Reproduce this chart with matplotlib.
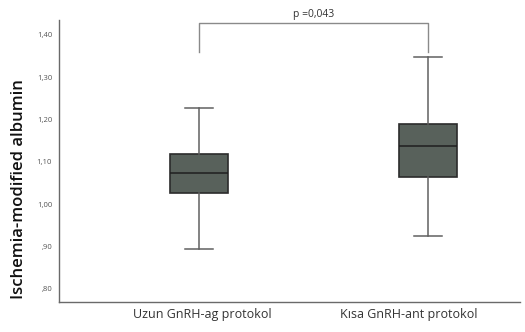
import matplotlib
matplotlib.use("Agg")
import matplotlib.pyplot as plt
import matplotlib.transforms as mtransforms

# Kutu grafik istatistikleri
groups = ["Uzun GnRH-ag protokol", "Kısa GnRH-ant protokol"]
whisker_low = [0.894, 0.925]
q1 = [1.027, 1.065]
median = [1.074, 1.138]
q3 = [1.119, 1.190]
whisker_high = [1.227, 1.349]
p_text = "p =0,043"
yticks = [0.80, 0.90, 1.00, 1.10, 1.20, 1.30, 1.40]
ytick_labels = [",80", ",90", "1,00", "1,10", "1,20", "1,30", "1,40"]

plt.rcParams['font.family'] = ['Open Sans', 'DejaVu Sans']

fig = plt.figure(figsize=(5.25, 3.32), dpi=100)
ax = fig.add_axes([0.1124, 0.0904, 0.8776, 0.8494])

stats = []
for i in range(len(groups)):
    stats.append({
        "whislo": whisker_low[i], "q1": q1[i], "med": median[i],
        "q3": q3[i], "whishi": whisker_high[i], "fliers": [],
    })

positions = [1, 2]
ax.bxp(stats, positions=positions, widths=0.25, capwidths=0.122,
       patch_artist=True, showfliers=False,
       boxprops=dict(facecolor="#58615b", edgecolor="#2b2b2b", linewidth=1.2),
       medianprops=dict(color="#1f1f1f", linewidth=1.1),
       whiskerprops=dict(color="#606060", linewidth=1.1),
       capprops=dict(color="#606060", linewidth=1.1))

# p degeri icin parantez
top = 1.428
low = 1.360
ax.plot([positions[0], positions[0], positions[1], positions[1]],
        [low, top, top, low], color="#8a8a8a", linewidth=1.0, clip_on=False)
ax.text((positions[0] + positions[1]) / 2, top + 0.008, p_text,
        ha="center", va="bottom", fontsize=7.5, color="#333333")

ax.set_xlim(0.389, 2.40)
ax.set_ylim(0.769, 1.4354)
ax.set_yticks(yticks)
ax.set_yticklabels(ytick_labels, fontsize=5.5, color="#555555")
ax.set_xticks(positions)
ax.set_xticklabels([])
ax.tick_params(axis="both", length=0)
ax.tick_params(axis="y", pad=5)

# grup etiketleri: referansta ikinci etiket kutunun biraz solunda
label_shift = [0.03, -0.19]  # inc
base = ax.get_xaxis_transform()
for i, name in enumerate(groups):
    tr = base + mtransforms.ScaledTranslation(label_shift[i], -0.06, fig.dpi_scale_trans)
    ax.text(positions[i], 0, name, transform=tr, ha="center", va="top",
            fontsize=9, color="#333333")

ax.set_ylabel("Ischemia-modified albumin", fontsize=12, fontweight="semibold",
              color="#111111")
ax.yaxis.set_label_coords(-0.07, 0.40)

for s in ["top", "right"]:
    ax.spines[s].set_visible(False)
for s in ["left", "bottom"]:
    ax.spines[s].set_color("#6a6a6a")
    ax.spines[s].set_linewidth(1.0)

fig.savefig("out.png", dpi=100)
